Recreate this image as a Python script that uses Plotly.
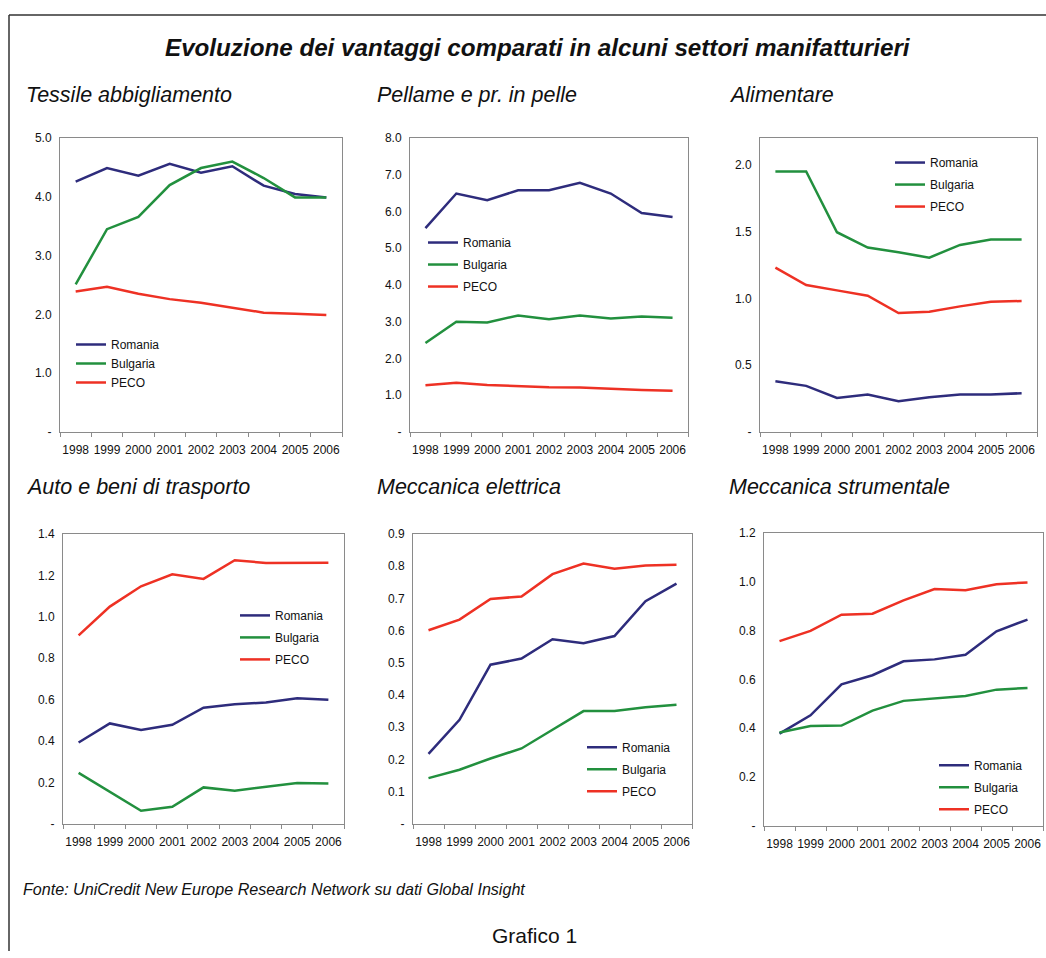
import plotly.graph_objects as go

W, H = 1046, 958

years = ["1998", "1999", "2000", "2001", "2002", "2003", "2004", "2005", "2006"]
series_names = ["Romania", "Bulgaria", "PECO"]

panel_titles = ["Tessile abbigliamento", "Pellame e pr. in pelle", "Alimentare",
                "Auto e beni di trasporto", "Meccanica elettrica", "Meccanica strumentale"]

tessile_romania = [4.26, 4.49, 4.36, 4.56, 4.41, 4.52, 4.19, 4.05, 3.99]
tessile_bulgaria = [2.51, 3.45, 3.66, 4.20, 4.49, 4.60, 4.32, 3.99, 3.99]
tessile_peco = [2.39, 2.47, 2.35, 2.26, 2.20, 2.11, 2.03, 2.01, 1.99]

pellame_romania = [5.55, 6.49, 6.31, 6.58, 6.58, 6.78, 6.49, 5.96, 5.85]
pellame_bulgaria = [2.42, 3.00, 2.98, 3.17, 3.07, 3.17, 3.09, 3.14, 3.11]
pellame_peco = [1.27, 1.34, 1.28, 1.24, 1.22, 1.21, 1.17, 1.14, 1.12]

alimentare_romania = [0.38, 0.345, 0.255, 0.28, 0.23, 0.26, 0.28, 0.28, 0.29]
alimentare_bulgaria = [1.95, 1.95, 1.495, 1.38, 1.345, 1.305, 1.40, 1.44, 1.44]
alimentare_peco = [1.23, 1.10, 1.06, 1.02, 0.89, 0.90, 0.94, 0.975, 0.98]

auto_romania = [0.393, 0.485, 0.453, 0.478, 0.561, 0.578, 0.586, 0.607, 0.599]
auto_bulgaria = [0.246, 0.156, 0.063, 0.082, 0.176, 0.160, 0.179, 0.197, 0.195]
auto_peco = [0.910, 1.049, 1.147, 1.205, 1.183, 1.273, 1.260, 1.261, 1.261]

elettrica_romania = [0.217, 0.323, 0.494, 0.513, 0.573, 0.561, 0.583, 0.691, 0.746]
elettrica_bulgaria = [0.142, 0.168, 0.203, 0.234, 0.292, 0.350, 0.350, 0.362, 0.370]
elettrica_peco = [0.601, 0.634, 0.698, 0.706, 0.775, 0.808, 0.792, 0.802, 0.804]

strumentale_romania = [0.378, 0.453, 0.580, 0.617, 0.674, 0.682, 0.701, 0.797, 0.845]
strumentale_bulgaria = [0.382, 0.409, 0.411, 0.472, 0.512, 0.523, 0.532, 0.558, 0.565]
strumentale_peco = [0.757, 0.799, 0.865, 0.869, 0.924, 0.970, 0.965, 0.990, 0.997]

tessile_ticks = [0, 1, 2, 3, 4, 5]
tessile_ticktext = ["-", "1.0", "2.0", "3.0", "4.0", "5.0"]
pellame_ticks = [0, 1, 2, 3, 4, 5, 6, 7, 8]
pellame_ticktext = ["-", "1.0", "2.0", "3.0", "4.0", "5.0", "6.0", "7.0", "8.0"]
alimentare_ticks = [0, 0.5, 1.0, 1.5, 2.0]
alimentare_ticktext = ["-", "0.5", "1.0", "1.5", "2.0"]
auto_ticks = [0, 0.2, 0.4, 0.6, 0.8, 1.0, 1.2, 1.4]
auto_ticktext = ["-", "0.2", "0.4", "0.6", "0.8", "1.0", "1.2", "1.4"]
elettrica_ticks = [0, 0.1, 0.2, 0.3, 0.4, 0.5, 0.6, 0.7, 0.8, 0.9]
elettrica_ticktext = ["-", "0.1", "0.2", "0.3", "0.4", "0.5", "0.6", "0.7", "0.8", "0.9"]
strumentale_ticks = [0, 0.2, 0.4, 0.6, 0.8, 1.0, 1.2]
strumentale_ticktext = ["-", "0.2", "0.4", "0.6", "0.8", "1.0", "1.2"]

panels = [
    dict(data=[tessile_romania, tessile_bulgaria, tessile_peco], ticks=tessile_ticks, ticktext=tessile_ticktext,
         yr=[0, 5], box=(60, 342, 138, 432), title_xy=(24, 95), leg=(85, 340), gap=0),
    dict(data=[pellame_romania, pellame_bulgaria, pellame_peco], ticks=pellame_ticks, ticktext=pellame_ticktext,
         yr=[0, 8], box=(410, 688, 138, 432), title_xy=(375, 95), leg=(437, 238), gap=3),
    dict(data=[alimentare_romania, alimentare_bulgaria, alimentare_peco], ticks=alimentare_ticks, ticktext=alimentare_ticktext,
         yr=[0, 2.2], box=(760, 1037, 138, 432), title_xy=(727, 95), leg=(904, 158), gap=3),
    dict(data=[auto_romania, auto_bulgaria, auto_peco], ticks=auto_ticks, ticktext=auto_ticktext,
         yr=[0, 1.4], box=(63, 344, 534, 824), title_xy=(24, 487), leg=(249, 611), gap=3),
    dict(data=[elettrica_romania, elettrica_bulgaria, elettrica_peco], ticks=elettrica_ticks, ticktext=elettrica_ticktext,
         yr=[0, 0.9], box=(413, 692, 534, 824), title_xy=(375, 487), leg=(596, 743), gap=3),
    dict(data=[strumentale_romania, strumentale_bulgaria, strumentale_peco], ticks=strumentale_ticks, ticktext=strumentale_ticktext,
         yr=[0, 1.2], box=(764, 1043, 533, 826), title_xy=(727, 487), leg=(948, 761), gap=3),
]

colors = ["#2E2C7C", "#22903E", "#EE3124"]
FONT = "Liberation Sans, Arial, sans-serif"
FRAME = "#8a8a8a"

def px(x):
    return x / W

def py(y):
    # compensate the vertical scaling observed in the photographed page
    yy = (y - 6.9) / 0.9857
    return 1 - yy / H

fig = go.Figure()
layout = dict(
    width=W, height=H, margin=dict(l=0, r=0, t=0, b=0),
    paper_bgcolor="white", plot_bgcolor="white",
    font=dict(family=FONT, size=12, color="#111"),
    showlegend=True,
)
annotations = []

for i, p in enumerate(panels):
    n = i + 1
    xa = "x" if n == 1 else f"x{n}"
    ya = "y" if n == 1 else f"y{n}"
    lg = "legend" if n == 1 else f"legend{n}"
    for s, (name, vals) in enumerate(zip(series_names, p["data"])):
        fig.add_trace(go.Scatter(
            x=years, y=vals, mode="lines", name=name,
            line=dict(color=colors[s], width=2.5),
            xaxis=xa, yaxis=ya, legend=lg, legendgroup=f"{n}-{s}",
            hoverinfo="skip",
        ))
    x0, x1, y0, y1 = p["box"]
    layout["xaxis" if n == 1 else f"xaxis{n}"] = dict(
        domain=[px(x0), px(x1)], anchor=ya, type="category",
        range=[-0.5, 8.5], showgrid=False, zeroline=False,
        showline=True, linecolor=FRAME, linewidth=1, mirror=True,
        ticks="outside", tickson="boundaries", ticklen=4, tickcolor=FRAME,
        tickangle=0, ticklabelstandoff=7,
        tickfont=dict(family=FONT, size=12, color="#111"),
    )
    layout["yaxis" if n == 1 else f"yaxis{n}"] = dict(
        domain=[py(y1), py(y0)], anchor=xa, range=p["yr"],
        showgrid=False, zeroline=False,
        showline=True, linecolor=FRAME, linewidth=1, mirror=True,
        tickvals=p["ticks"], ticktext=p["ticktext"], ticks="",
        ticklabelstandoff=5,
        tickfont=dict(family=FONT, size=12, color="#111"),
    )
    lx, ly = p["leg"]
    layout[lg] = dict(
        x=px(lx - 14), y=py(ly - 10), xanchor="left", yanchor="top",
        bgcolor="rgba(0,0,0,0)", borderwidth=0,
        font=dict(family=FONT, size=12, color="#111"),
        traceorder="grouped", tracegroupgap=p["gap"],
        itemwidth=30,
    )
    tx, ty = p["title_xy"]
    annotations.append(dict(
        text=f"<i>{panel_titles[i]}</i>", xref="paper", yref="paper",
        x=px(tx), y=py(ty), xanchor="left", yanchor="middle", showarrow=False,
        font=dict(family=FONT, size=21.5, color="#111"),
    ))

annotations.append(dict(
    text="<b><i>Evoluzione dei vantaggi comparati in alcuni settori manifatturieri</i></b>",
    xref="paper", yref="paper", x=px(538), y=py(47), xanchor="center", yanchor="middle",
    showarrow=False, font=dict(family=FONT, size=24.2, color="#111"),
))
annotations.append(dict(
    text="<i>Fonte: UniCredit New Europe Research Network su dati Global Insight</i>",
    xref="paper", yref="paper", x=px(21), y=py(889), xanchor="left", yanchor="middle",
    showarrow=False, font=dict(family=FONT, size=16.1, color="#111"),
))
annotations.append(dict(
    text="Grafico 1", xref="paper", yref="paper", x=px(534), y=py(936),
    xanchor="center", yanchor="middle", showarrow=False,
    font=dict(family=FONT, size=21, color="#111"),
))
layout["annotations"] = annotations
layout["shapes"] = [
    dict(type="line", xref="paper", yref="paper", x0=px(9), x1=1.0, y0=py(15), y1=py(15),
         line=dict(color="#333", width=1.5)),
    dict(type="line", xref="paper", yref="paper", x0=px(9), x1=px(9), y0=py(15), y1=0,
         line=dict(color="#333", width=1.5)),
]
fig.update_layout(**layout)

post = (
    "document.documentElement.style.margin='0';"
    "document.body.style.margin='0';"
    "document.body.style.overflow='hidden';"
    "var gd=document.getElementById('{plot_id}');"
    "gd.style.position='absolute';gd.style.left='0px';gd.style.top='0px';"
)
fig.write_html("out.html", post_script=post, config={"displayModeBar": False})
